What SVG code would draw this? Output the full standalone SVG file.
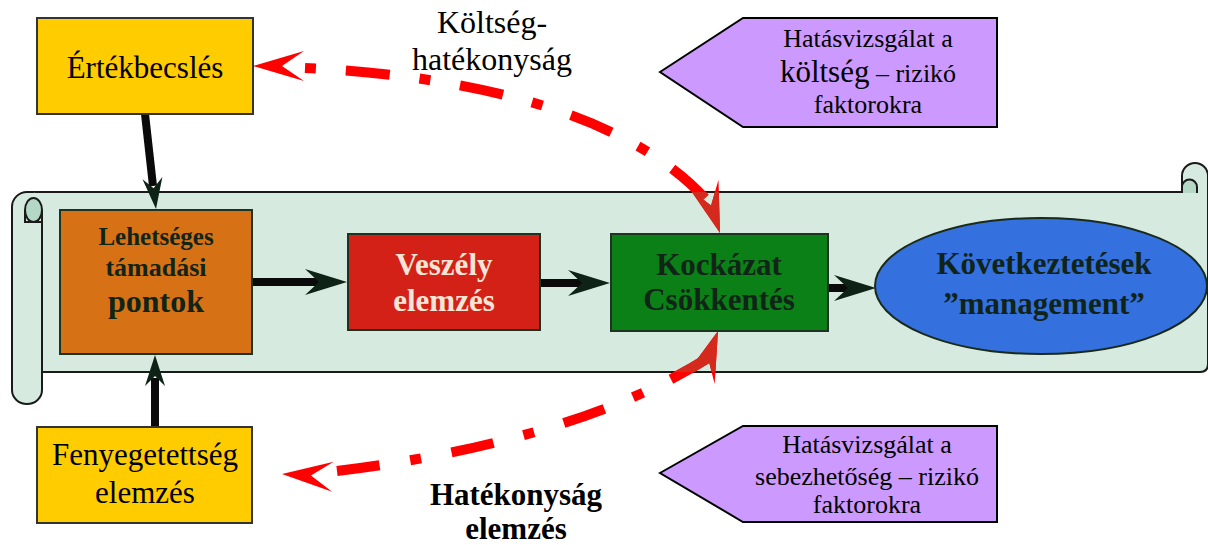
<svg xmlns="http://www.w3.org/2000/svg" width="1208" height="545" viewBox="0 0 1208 545">
<style>
.sc{fill:#d6eadf;stroke:#1a1a1a;stroke-width:2}
.sc2{fill:#b4d7c6;stroke:#1a1a1a;stroke-width:2}
.box{stroke:#1e3322;stroke-width:2}
.yb{fill:#ffcc00;stroke:#333;stroke-width:2}
.pp{fill:#cc99ff;stroke:#000;stroke-width:2}
.t{font-family:"Liberation Serif","Times New Roman",serif;text-anchor:middle}
.b{font-weight:bold;fill:#102418}
.blk{stroke:#0a0a0a;stroke-width:8;fill:none}
.hd{fill:#0f2216}
.red{fill:none;stroke:#ff0000;stroke-width:10}
.rh{fill:#ff0000}
</style>
<defs>
<path id="headH" d="M0 0 L-42 -13 L-28 0 L-42 13 Z"/>
<path id="headV" d="M0 0 L-31 -10 L-21 0 L-31 10 Z"/>
<path id="headR" d="M0 0 L-51 -15 L-29 0 L-51 15 Z"/>
<clipPath id="scrollClip"><rect x="12" y="192" width="1196" height="180"/></clipPath>
</defs>

<g id="scroll">
<path class="sc" d="M27 192 H1208 V364 Q1208 372 1200 372 H42"/>
<path class="sc" d="M1182 193 V176 A13 13 0 0 1 1208 176 V193"/>
<path class="sc2" d="M1182 193 V187 A7.5 7.5 0 0 1 1197 187 V193"/>
<path class="sc" d="M42 210 V390 A15 14 0 0 1 12 390 V207 A15 15 0 0 1 27 192 H34"/>
<ellipse class="sc2" cx="33.5" cy="210" rx="8.5" ry="12"/>
<path d="M25 210 V222 H42" fill="none" stroke="#1a1a1a" stroke-width="2"/>
</g>

<g id="connectors">
<line class="blk" x1="252" y1="282" x2="322" y2="282"/>
<use href="#headH" class="hd" transform="translate(347,282)"/>
<line class="blk" x1="540" y1="283" x2="585" y2="283"/>
<use href="#headH" class="hd" transform="translate(610,283)"/>
<line class="blk" x1="828" y1="288" x2="852" y2="288"/>
<use href="#headH" class="hd" transform="translate(876,288)"/>
<line class="blk" x1="145" y1="114" x2="153" y2="186"/>
<use href="#headV" class="hd" transform="translate(156,209) rotate(83.4)"/>
<line class="blk" x1="155" y1="427" x2="155" y2="378"/>
<use href="#headV" class="hd" transform="translate(155,355) rotate(-90)"/>

<g id="redTop">
<path class="red" d="M305 68 C460 75 630 110 711 205" stroke-dasharray="11 30 44 30"/>
<use href="#headR" class="rh" transform="translate(253,66) rotate(180)"/>
<use href="#headR" class="rh" transform="translate(720,233) rotate(72)"/>
</g>
<g id="redBottom">
<path class="red" d="M337 471 C470 455 610 420 708 358" stroke-dasharray="43 31 11 31"/>
<use href="#headR" class="rh" transform="translate(282,474) rotate(183)"/>
<use href="#headR" class="rh" transform="translate(718,331) rotate(-70)"/>
</g>
<g clip-path="url(#scrollClip)">
<path d="M305 68 C460 75 630 110 711 205" fill="none" stroke="#d42a1e" stroke-width="10" stroke-dasharray="11 30 44 30"/>
<use href="#headR" fill="#d42a1e" transform="translate(720,233) rotate(72)"/>
<path d="M337 471 C470 455 610 420 708 358" fill="none" stroke="#d42a1e" stroke-width="10" stroke-dasharray="43 31 11 31"/>
<use href="#headR" fill="#d42a1e" transform="translate(718,331) rotate(-70)"/>
</g>
</g>

<g id="ertekbecsles">
<rect class="yb" x="37" y="18" width="216" height="96"/>
<text class="t" x="145" y="78" font-size="31">Értékbecslés</text>
</g>
<g id="fenyegetettseg">
<rect class="yb" x="37" y="427" width="215" height="96"/>
<text class="t" x="145" y="465" font-size="31">Fenyegetettség</text>
<text class="t" x="145" y="503" font-size="31">elemzés</text>
</g>
<g id="lehetseges">
<rect class="box" x="60" y="210" width="192" height="144" fill="#d67215"/>
<text class="t b" x="156" y="245" font-size="25">Lehetséges</text>
<text class="t b" x="156" y="276" font-size="26">támadási</text>
<text class="t b" x="156" y="312" font-size="32">pontok</text>
</g>
<g id="veszely">
<rect class="box" x="348" y="234" width="192" height="96" fill="#d42118"/>
<text class="t" x="444" y="275" font-size="31" font-weight="bold" fill="#f4e6d6">Veszély</text>
<text class="t" x="444" y="311" font-size="31" font-weight="bold" fill="#f4e6d6">elemzés</text>
</g>
<g id="kockazat">
<rect class="box" x="611" y="234" width="217" height="97" fill="#0b8017"/>
<text class="t b" x="719" y="275" font-size="31">Kockázat</text>
<text class="t b" x="719" y="310" font-size="31">Csökkentés</text>
</g>
<g id="kovetkeztetesek">
<ellipse cx="1041" cy="286" rx="166" ry="68" fill="#3471de" stroke="#1a2a1a" stroke-width="2"/>
<text class="t b" x="1044" y="274" font-size="31">Következtetések</text>
<text class="t b" x="1044" y="314" font-size="31">”management”</text>
</g>
<g id="hatasTop">
<polygon class="pp" points="660,72 743,18 997,18 997,127 743,127"/>
<text class="t" x="868" y="47" font-size="26">Hatásvizsgálat a</text>
<text class="t" x="868" y="82" font-size="26"><tspan font-size="31">költség</tspan> – rizikó</text>
<text class="t" x="868" y="113" font-size="26">faktorokra</text>
</g>
<g id="hatasBottom">
<polygon class="pp" points="660,473 743,426 997,426 997,522 743,522"/>
<text class="t" x="867" y="453" font-size="26">Hatásvizsgálat a</text>
<text class="t" x="867" y="485" font-size="26">sebezhetőség – rizikó</text>
<text class="t" x="867" y="513" font-size="26">faktorokra</text>
</g>
<g id="labels">
<text class="t" x="492" y="33" font-size="32">Költség-</text>
<text class="t" x="492" y="70" font-size="32">hatékonyság</text>
<text class="t" x="516" y="505" font-size="31" font-weight="bold">Hatékonyság</text>
<text class="t" x="516" y="539" font-size="31" font-weight="bold">elemzés</text>
</g>
</svg>
